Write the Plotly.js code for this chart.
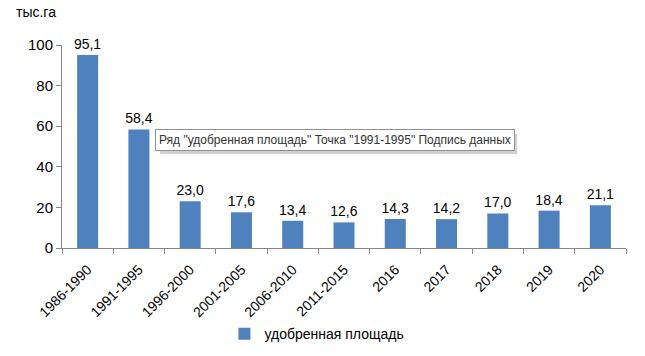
<!DOCTYPE html>
<html><head><meta charset="utf-8">
<script src="https://cdn.plot.ly/plotly-3.0.1.min.js"></script>
<style>body{margin:0;background:#fff}#c{width:645px;height:356px}</style>
</head><body><div id="c"></div>
<script>
const categories = ["1986-1990","1991-1995","1996-2000","2001-2005","2006-2010","2011-2015","2016","2017","2018","2019","2020"];
const values = [95.1, 58.4, 23.0, 17.6, 13.4, 12.6, 14.3, 14.2, 17.0, 18.4, 21.1];
const seriesName = "удобренная площадь";
const unitLabel = "тыс.га";
const tooltipText = 'Ряд "удобренная площадь" Точка "1991-1995" Подпись данных';

const font = "Liberation Sans, Arial, sans-serif";
const trace = {
  type: "bar", x: categories, y: values, name: seriesName,
  marker: {color: "#4f81bd"},
  texttemplate: "%{y:.1f}", textposition: "outside", cliponaxis: false,
  constraintext: "none",
  textfont: {family: font, size: 14, color: "#000"},
  hoverinfo: "none"
};
const layout = {
  width: 645, height: 356,
  margin: {l: 62, r: 19, t: 45, b: 108},
  separators: ", ",
  paper_bgcolor: "#fff", plot_bgcolor: "#fff",
  font: {family: font, size: 13, color: "#000"},
  bargap: 0.59,
  showlegend: true,
  legend: {orientation: "h", x: 0.452, xanchor: "center", yref: "container", y: 0.106, yanchor: "top",
           font: {family: font, size: 14}, itemwidth: 30},
  xaxis: {type: "category", tickangle: -45, showline: true, linecolor: "#888",
          ticks: "outside", tickson: "boundaries", ticklen: 5, tickcolor: "#888",
          ticklabelstandoff: 7,
          tickfont: {family: font, size: 14}, showgrid: false, automargin: false},
  yaxis: {range: [0, 100], dtick: 20, showline: true, linecolor: "#888",
          ticks: "outside", ticklen: 5, tickcolor: "#888", showgrid: false,
          zeroline: false, tickfont: {family: font, size: 15}, automargin: false},
  shapes: [
    {type: "rect", xref: "paper", yref: "paper", x0: 0.174, x1: 0.807, y0: 0.463, y1: 0.562,
     line: {width: 0}, fillcolor: "#d0d0d0", layer: "above"}
  ],
  annotations: [
    {xref: "paper", yref: "paper", x: -0.085, y: 1.163, xanchor: "left", yanchor: "middle",
     text: unitLabel, showarrow: false, font: {family: font, size: 14}},
    {xref: "paper", yref: "paper", x: 0.165, y: 0.532, xanchor: "left", yanchor: "middle",
     text: tooltipText, showarrow: false, bgcolor: "#fff", bordercolor: "#909090",
     borderwidth: 1, borderpad: 3, font: {family: font, size: 12, color: "#333"}}
  ]
};
Plotly.newPlot("c", [trace], layout, {displayModeBar: false, staticPlot: true});
</script></body></html>
